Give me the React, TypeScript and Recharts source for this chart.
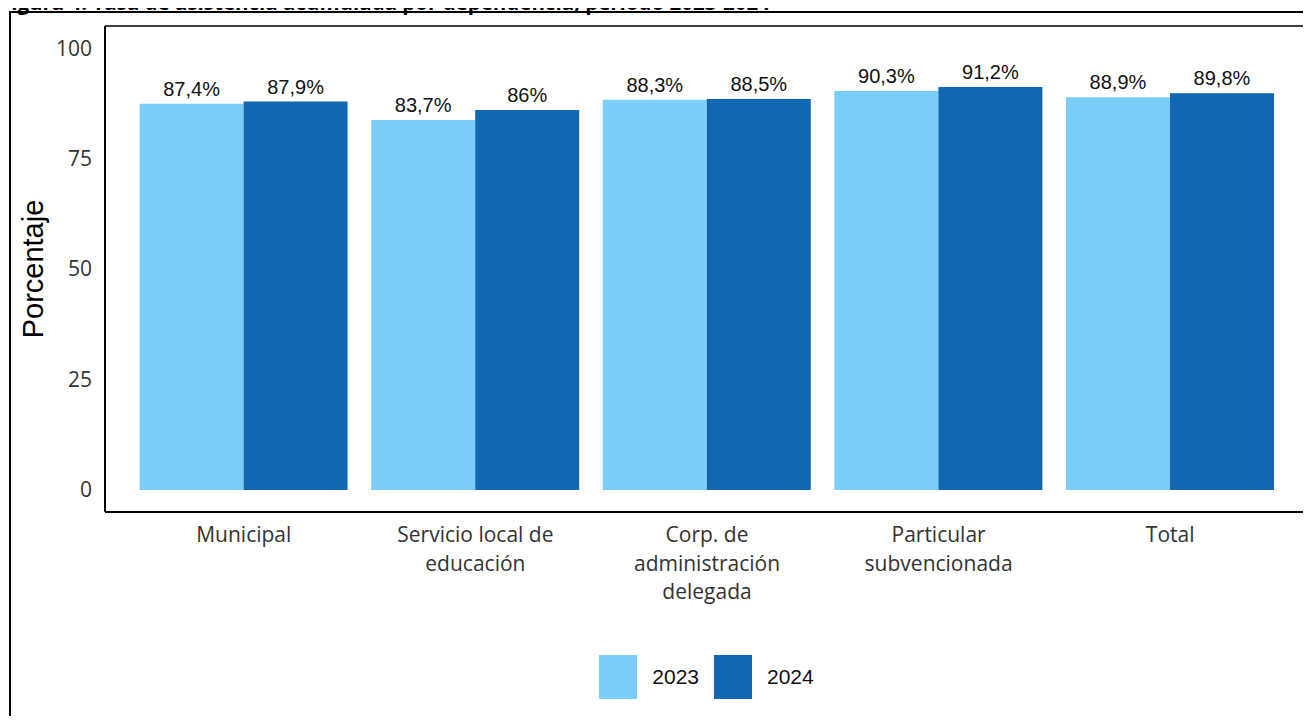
import React from 'react';
import {
  BarChart,
  Bar,
  XAxis,
  YAxis,
  CartesianGrid,
  Legend,
  LabelList,
} from 'recharts';

const categories = [
  'Municipal',
  'Servicio local de\neducación',
  'Corp. de\nadministración\ndelegada',
  'Particular\nsubvencionada',
  'Total',
];
const values2023 = [87.4, 83.7, 88.3, 90.3, 88.9];
const values2024 = [87.9, 86, 88.5, 91.2, 89.8];
const yTicks = [0, 25, 50, 75, 100];

const LIGHT = '#7ACEF8';
const DARK = '#1167B2';
const TICK_FONT = '"Open Sans", "Noto Sans", sans-serif';
const LABEL_FONT = '"Liberation Sans", Arial, sans-serif';

const data = categories.map((name, i) => ({
  name,
  y2023: values2023[i],
  y2024: values2024[i],
}));

const formatPct = (v: any) => `${String(v).replace('.', ',')}%`;

function CategoryTick({ x, y, payload }: any) {
  const lines = String(payload.value).split('\n');
  return (
    <text
      x={x}
      y={y}
      textAnchor="middle"
      fill="#333"
      fontFamily={TICK_FONT}
      fontSize={21}
    >
      {lines.map((line, i) => (
        <tspan key={i} x={x} dy={i === 0 ? 30 : 28.5}>
          {line}
        </tspan>
      ))}
    </text>
  );
}

function YLabel({ viewBox }: any) {
  const cy = viewBox.y + viewBox.height / 2;
  return (
    <text
      x={33}
      y={cy}
      transform={`rotate(-90, 33, ${cy})`}
      textAnchor="middle"
      dominantBaseline="central"
      fontFamily={LABEL_FONT}
      fontSize={29}
      fill="#000"
    >
      Porcentaje
    </text>
  );
}

function LegendContent({ payload }: any) {
  return (
    <div style={{ display: 'flex', justifyContent: 'center', alignItems: 'center' }}>
      {(payload || []).map((item: any, i: number) => (
        <div
          key={item.value}
          style={{ display: 'flex', alignItems: 'center', marginLeft: i === 0 ? 0 : 15 }}
        >
          <div style={{ width: 38, height: 44, background: item.color }} />
          <span
            style={{
              marginLeft: 15,
              fontFamily: LABEL_FONT,
              fontSize: 21,
              color: '#111',
            }}
          >
            {item.value}
          </span>
        </div>
      ))}
    </div>
  );
}

export default function App() {
  return (
    <div
      style={{
        position: 'relative',
        width: 1311,
        height: 724,
        margin: -8,
        overflow: 'hidden',
        background: '#fff',
      }}
    >
      <div
        style={{
          position: 'absolute',
          left: 0,
          top: -8,
          fontFamily: TICK_FONT,
          fontWeight: 700,
          fontSize: 20.5,
          lineHeight: '20px',
          whiteSpace: 'nowrap',
          color: '#000',
        }}
      >
        Figura 4. Tasa de asistencia acumulada por dependencia, período 2023-2024
      </div>
      <div
        style={{
          position: 'absolute',
          left: 9,
          top: 11,
          width: 1320,
          height: 740,
          borderTop: '2px solid #000',
          borderLeft: '2px solid #000',
        }}
      />
      <div style={{ position: 'absolute', left: 0, top: 0 }}>
        <BarChart
          width={1311}
          height={724}
          data={data}
          margin={{ top: 26, right: 3, bottom: 0, left: 0 }}
          barCategoryGap="5%"
          barGap={0}
        >
          <CartesianGrid
            stroke="#000"
            strokeWidth={1.5}
            fill="none"
            horizontalCoordinatesGenerator={({ offset }: any) => [
              offset.top,
              offset.top + offset.height,
            ]}
            verticalCoordinatesGenerator={({ offset }: any) => [
              offset.left,
              offset.left + offset.width,
            ]}
          />
          <XAxis
            dataKey="name"
            height={212}
            interval={0}
            padding={{ left: 23, right: 22 }}
            tickLine={false}
            tickSize={0}
            tickMargin={0}
            axisLine={{ stroke: '#000', strokeWidth: 2 }}
            tick={<CategoryTick />}
          />
          <YAxis
            width={105}
            domain={[-5, 105]}
            ticks={yTicks}
            tickLine={false}
            tickSize={0}
            tickMargin={13}
            axisLine={{ stroke: '#000', strokeWidth: 2 }}
            tick={{ fill: '#333', fontFamily: TICK_FONT, fontSize: 21 }}
            label={<YLabel />}
          />
          <Legend
            layout="horizontal"
            verticalAlign="middle"
            align="center"
            wrapperStyle={{ top: 655, left: 105, width: 1203 }}
            content={<LegendContent />}
          />
          <Bar dataKey="y2023" name="2023" fill={LIGHT} isAnimationActive={false}>
            <LabelList
              dataKey="y2023"
              position="top"
              offset={8}
              formatter={formatPct}
              style={{ fill: '#111', fontFamily: LABEL_FONT, fontSize: 20 }}
            />
          </Bar>
          <Bar dataKey="y2024" name="2024" fill={DARK} isAnimationActive={false}>
            <LabelList
              dataKey="y2024"
              position="top"
              offset={8}
              formatter={formatPct}
              style={{ fill: '#111', fontFamily: LABEL_FONT, fontSize: 20 }}
            />
          </Bar>
        </BarChart>
      </div>
    </div>
  );
}
